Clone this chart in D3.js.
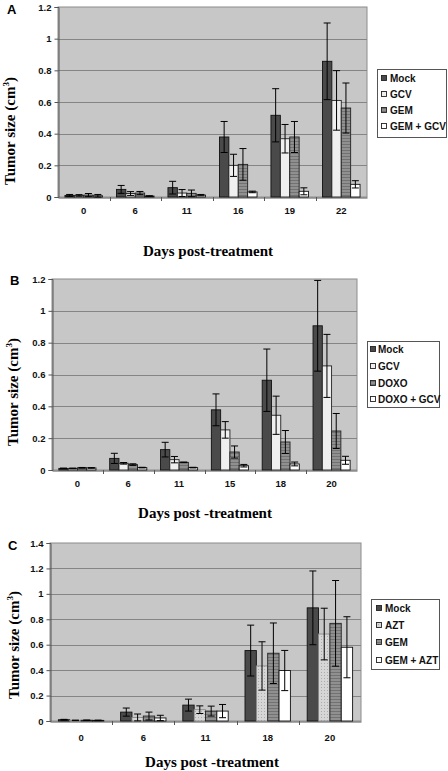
<!DOCTYPE html>
<html><head><meta charset="utf-8">
<script src="https://cdn.jsdelivr.net/npm/d3@7/dist/d3.min.js"></script>
<style>body{margin:0;background:#fff}</style>
</head><body>
<svg id="chart" width="448" height="771"></svg>
<script>
// ---------- Panel A ----------
const daysA = ["0","6","11","16","19","22"];
const seriesA = ["Mock","GCV","GEM","GEM + GCV"];
const mockA = [0.010, 0.048, 0.059, 0.379, 0.516, 0.857];
const mockAErr = [0.006, 0.025, 0.040, 0.098, 0.168, 0.242];
const gcvA = [0.010, 0.022, 0.025, 0.200, 0.368, 0.610];
const gcvAErr = [0.005, 0.012, 0.022, 0.070, 0.090, 0.188];
const gemA = [0.012, 0.025, 0.023, 0.206, 0.379, 0.562];
const gemAErr = [0.010, 0.010, 0.021, 0.100, 0.098, 0.158];
const gemGcvA = [0.008, 0.006, 0.012, 0.032, 0.036, 0.080];
const gemGcvAErr = [0.008, 0.002, 0.004, 0.005, 0.022, 0.023];

// ---------- Panel B ----------
const daysB = ["0","6","11","15","18","20"];
const seriesB = ["Mock","GCV","DOXO","DOXO + GCV"];
const mockB = [0.010, 0.073, 0.128, 0.378, 0.564, 0.906];
const mockBErr = [0.002, 0.032, 0.046, 0.100, 0.196, 0.285];
const gcvB = [0.010, 0.042, 0.065, 0.252, 0.344, 0.654];
const gcvBErr = [0.002, 0.005, 0.020, 0.052, 0.120, 0.198];
const doxoB = [0.014, 0.034, 0.048, 0.113, 0.176, 0.245];
const doxoBErr = [0.002, 0.005, 0.002, 0.038, 0.072, 0.110];
const doxoGcvB = [0.013, 0.015, 0.015, 0.027, 0.038, 0.061];
const doxoGcvBErr = [0.002, 0.002, 0.002, 0.008, 0.012, 0.025];

// ---------- Panel C ----------
const daysC = ["0","6","11","18","20"];
const seriesC = ["Mock","AZT","GEM","GEM + AZT"];
const mockC = [0.010, 0.070, 0.125, 0.554, 0.890];
const mockCErr = [0.003, 0.032, 0.047, 0.200, 0.290];
const aztC = [0.005, 0.028, 0.089, 0.433, 0.684];
const aztCErr = [0.002, 0.027, 0.030, 0.190, 0.203];
const gemC = [0.006, 0.039, 0.078, 0.533, 0.768];
const gemCErr = [0.002, 0.031, 0.039, 0.238, 0.337];
const gemAztC = [0.005, 0.024, 0.078, 0.397, 0.580];
const gemAztCErr = [0.002, 0.021, 0.052, 0.158, 0.240];

// ---------- Tick labels ----------
const yTicksAB = [0, 0.2, 0.4, 0.6, 0.8, 1, 1.2];
const yTickLabelsAB = ["0","0.2","0.4","0.6","0.8","1","1.2"];
const yTicksC = [0, 0.2, 0.4, 0.6, 0.8, 1, 1.2, 1.4];
const yTickLabelsC = ["0","0.2","0.4","0.6","0.8","1","1.2","1.4"];

const svg = d3.select("#chart");
const defs = svg.append("defs");
const hatch = defs.append("pattern").attr("id","hatch").attr("patternUnits","userSpaceOnUse")
  .attr("width",4).attr("height",3);
hatch.append("rect").attr("width",4).attr("height",3).attr("fill","#909090");
hatch.append("rect").attr("width",4).attr("height",1).attr("fill","#727272");
const dots = defs.append("pattern").attr("id","dots").attr("patternUnits","userSpaceOnUse")
  .attr("width",3).attr("height",3);
dots.append("rect").attr("width",3).attr("height",3).attr("fill","#d6d6d6");
dots.append("rect").attr("width",1).attr("height",1).attr("fill","#ababab");

const fills = ["#4a4a4a", "#efefef", "url(#hatch)", "#ffffff"];
const fillsC = ["#4a4a4a", "url(#dots)", "url(#hatch)", "#ffffff"];
const strokes = ["#111", "#222", "#222", "#111"];
const strokesC = ["#111", "#8a8a8a", "#222", "#111"];

function panel(cfg) {
  const g = svg.append("g");
  const x = d3.scaleBand().domain(cfg.days).range([cfg.left, cfg.right])
    .paddingInner(0.27).paddingOuter(0.135);
  const xs = d3.scaleBand().domain(d3.range(cfg.series.length)).range([0, x.bandwidth()]);
  const y = d3.scaleLinear().domain([0, cfg.yMax]).range([cfg.bottom, cfg.top]);

  g.append("rect").attr("x", cfg.left).attr("y", cfg.top)
    .attr("width", cfg.right - cfg.left).attr("height", cfg.bottom - cfg.top)
    .attr("fill", "#c7c7c7").attr("stroke", "#8c8c8c").attr("stroke-width", 1);

  // gridlines
  g.append("g").selectAll("line").data(cfg.yTicks.slice(1, -1)).join("line")
    .attr("x1", cfg.left).attr("x2", cfg.right)
    .attr("y1", d => Math.round(y(d)) + 0.5).attr("y2", d => Math.round(y(d)) + 0.5)
    .attr("stroke", "#858585").attr("stroke-width", 1);

  // y axis
  const yAxis = d3.axisLeft(y).tickValues(cfg.yTicks)
    .tickFormat((d, i) => cfg.yLabels[i]).tickSize(4).tickPadding(3);
  const ya = g.append("g").attr("transform", `translate(${cfg.left + 0.5},0)`).call(yAxis);
  ya.select(".domain").attr("stroke", "#555");
  ya.selectAll(".tick line").attr("stroke", "#555");
  ya.selectAll("text").attr("font-family", "Liberation Sans, Arial, sans-serif")
    .attr("font-weight", "bold").attr("font-size", 9.5).attr("fill", "#111");

  // x axis
  const xa = g.append("g").attr("transform", `translate(0,${cfg.bottom + 0.5})`)
    .call(d3.axisBottom(x).tickSize(0).tickPadding(cfg.xLabelPad));
  xa.select(".domain").attr("stroke", "#555");
  xa.selectAll("text").attr("font-family", "Liberation Sans, Arial, sans-serif")
    .attr("font-weight", "bold").attr("font-size", 9.5).attr("fill", "#111");
  // category separators
  const step = x.step();
  g.append("g").selectAll("line").data(d3.range(1, cfg.days.length)).join("line")
    .attr("x1", i => Math.round(cfg.left + i * step) + 0.5)
    .attr("x2", i => Math.round(cfg.left + i * step) + 0.5)
    .attr("y1", cfg.bottom).attr("y2", cfg.bottom + 4)
    .attr("stroke", "#555");

  // bars
  cfg.values.forEach((vals, s) => {
    g.append("g").selectAll("rect").data(vals).join("rect")
      .attr("x", (d, i) => x(cfg.days[i]) + xs(s))
      .attr("y", d => y(d))
      .attr("width", xs.bandwidth())
      .attr("height", d => cfg.bottom - y(d))
      .attr("fill", cfg.fills[s]).attr("stroke", cfg.strokes[s]).attr("stroke-width", 0.9);
  });
  // error bars
  cfg.values.forEach((vals, s) => {
    const eg = g.append("g").attr("stroke", "#000").attr("stroke-width", 1);
    vals.forEach((v, i) => {
      const cx = x(cfg.days[i]) + xs(s) + xs.bandwidth() / 2;
      const e = cfg.errs[s][i];
      const y1 = y(v + e), y2 = y(Math.max(0, v - e));
      eg.append("line").attr("x1", cx).attr("x2", cx).attr("y1", y1).attr("y2", y2);
      eg.append("line").attr("x1", cx - 3.5).attr("x2", cx + 3.5).attr("y1", y1).attr("y2", y1);
      eg.append("line").attr("x1", cx - 3.5).attr("x2", cx + 3.5).attr("y1", y2).attr("y2", y2);
    });
  });

  // panel letter
  g.append("text").attr("x", cfg.letterX).attr("y", cfg.letterY).text(cfg.letter)
    .attr("font-family", "Liberation Sans, Arial, sans-serif").attr("font-weight", "bold")
    .attr("font-size", 13).attr("fill", "#000");

  // y title
  const yt = g.append("text")
    .attr("transform", `translate(${cfg.yTitleX},${cfg.yTitleY}) rotate(-90)`)
    .attr("text-anchor", "middle")
    .attr("font-family", "Liberation Serif, Times New Roman, serif")
    .attr("font-weight", "bold").attr("font-size", 15).attr("fill", "#000");
  yt.append("tspan").text("Tumor size (cm");
  yt.append("tspan").text("3").attr("font-size", 9).attr("dy", -6);
  yt.append("tspan").text(")").attr("dy", 6);

  // x title
  g.append("text").attr("x", cfg.xTitleX).attr("y", cfg.xTitleY).attr("text-anchor", "middle")
    .attr("font-family", "Liberation Serif, Times New Roman, serif")
    .attr("font-weight", "bold").attr("font-size", 15).attr("fill", "#000").text(cfg.xTitle);

  // legend
  const L = cfg.legend;
  g.append("rect").attr("x", L.x + 0.5).attr("y", L.y + 0.5).attr("width", L.w).attr("height", L.h)
    .attr("fill", "#fff").attr("stroke", "#555");
  cfg.series.forEach((name, s) => {
    const cy = L.rows[s];
    g.append("rect").attr("x", L.mx + 0.5).attr("y", cy - 2.5).attr("width", 5).attr("height", 5)
      .attr("fill", cfg.fills[s]).attr("stroke", "#222").attr("stroke-width", 0.9);
    g.append("text").attr("x", L.tx).attr("y", cy).attr("dy", "0.36em").text(name)
      .attr("font-family", "Liberation Sans, Arial, sans-serif").attr("font-weight", "bold")
      .attr("font-size", 10).attr("fill", "#111");
  });
}

panel({
  days: daysA, series: seriesA,
  values: [mockA, gcvA, gemA, gemGcvA],
  errs: [mockAErr, gcvAErr, gemAErr, gemGcvAErr],
  fills: fills, strokes: strokes,
  yTicks: yTicksAB, yLabels: yTickLabelsAB, yMax: 1.2,
  left: 58, right: 367, top: 7, bottom: 197, xLabelPad: 10,
  letter: "A", letterX: 7, letterY: 14,
  yTitleX: 15, yTitleY: 131,
  xTitle: "Days post-treatment", xTitleX: 208, xTitleY: 256,
  legend: {x: 377, y: 69, w: 69, h: 68, mx: 381, tx: 390, rows: [78, 94, 110, 126]}
});

panel({
  days: daysB, series: seriesB,
  values: [mockB, gcvB, doxoB, doxoGcvB],
  errs: [mockBErr, gcvBErr, doxoBErr, doxoGcvBErr],
  fills: fills, strokes: strokes,
  yTicks: yTicksAB, yLabels: yTickLabelsAB, yMax: 1.2,
  left: 52, right: 357, top: 279, bottom: 470, xLabelPad: 10,
  letter: "B", letterX: 10, letterY: 285,
  yTitleX: 18, yTitleY: 392,
  xTitle: "Days post -treatment", xTitleX: 205, xTitleY: 518,
  legend: {x: 367, y: 341, w: 72, h: 66, mx: 370, tx: 378, rows: [349, 366, 383, 399]}
});

panel({
  days: daysC, series: seriesC,
  values: [mockC, aztC, gemC, gemAztC],
  errs: [mockCErr, aztCErr, gemCErr, gemAztCErr],
  fills: fillsC, strokes: strokesC,
  yTicks: yTicksC, yLabels: yTickLabelsC, yMax: 1.4,
  left: 50, right: 361, top: 543, bottom: 721, xLabelPad: 13,
  letter: "C", letterX: 8, letterY: 550,
  yTitleX: 19, yTitleY: 645,
  xTitle: "Days post -treatment", xTitleX: 212, xTitleY: 767,
  legend: {x: 371, y: 599, w: 68, h: 70, mx: 376, tx: 385, rows: [608, 625, 642, 660]}
});
</script>
</body></html>
